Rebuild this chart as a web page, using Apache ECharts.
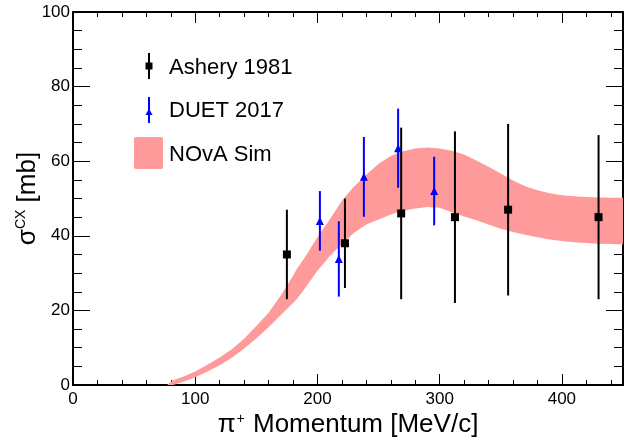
<!DOCTYPE html>
<html>
<head>
<meta charset="utf-8">
<script src="https://cdn.jsdelivr.net/npm/echarts@6/dist/echarts.min.js"></script>
<style>
  html, body { margin: 0; padding: 0; background: #fff; }
  #chart { width: 641px; height: 443px; }
</style>
</head>
<body>
<div id="chart"></div>
<script>
// Axis ranges and tick steps
const xRange = [0, 450];
const xStep = 100;
const yRange = [0, 100];
const yStep = 20;

// NOvA simulation band: momentum [MeV/c], upper and lower cross-section edges [mb]
const bandX =     [77,  80,  82,  90,  100, 110, 120, 130, 140, 150,  160,  170,  175,  180,  183,  190,  200,  210,  220,  230,  240,  250,  260,  270,  280,  290,  300,  310,  320,  330,  340,  350,  360,  370,  380,  390,  400,  410,  420,  430,  440,  450];
const bandUpper = [0,   0.8, 1.3, 2.2, 3.6, 5.4, 7.4, 9.6, 12.4, 15.8, 19.4, 24.0, 26.6, 29.3, 31.0, 34.4, 39.6, 44.4, 49.4, 53.2, 56.4, 59.3, 61.4, 62.7, 63.4, 63.7, 63.4, 62.8, 61.8, 60.2, 58.5, 56.7, 54.8, 53.3, 52.2, 51.4, 50.9, 50.6, 50.4, 50.3, 50.2, 50.2];
const bandLower = [0,   0,   0,   0.9, 2.1, 3.6, 5.3, 7.3, 9.8,  12.5, 15.5, 18.8, 20.4, 22.0, 23.0, 26.0, 30.6, 34.5, 37.8, 40.8, 43.0, 44.4, 45.7, 46.7, 47.3, 47.7, 47.5, 46.3, 45.2, 44.2, 43.0, 41.9, 41.0, 40.3, 39.6, 39.0, 38.6, 38.3, 38.1, 37.9, 37.8, 37.7];

// Ashery 1981 measurements
const asheryX =   [175, 222.5, 268.5, 312.5, 356, 430];
const asheryY =   [35,  38,    46,    45,    47,  45];
const asheryErr = [12,  12,    23,    23,    23,  22];

// DUET 2017 measurements
const duetX =   [202, 217.5, 238,  266,  295.5];
const duetY =   [44,  33.8,  55.8, 63.5, 52];
const duetErr = [8,   10.1,  10.7, 10.6, 9.2];

// Legend entries
const legendLabels = ['Ashery 1981', 'DUET 2017', 'NOvA Sim'];

const FONT = '"Liberation Sans", Arial, Helvetica, sans-serif';
const PINK = '#ff9a9a';
const BLUE = '#0000ff';
const BLACK = '#000000';

const chart = echarts.init(document.getElementById('chart'), null, { renderer: 'canvas' });

function points(xs, ys, es) {
  return xs.map((x, i) => [x, ys[i], es[i]]);
}

function bandItem(params, api) {
  const pts = [];
  for (let i = 0; i < bandX.length; i++) pts.push(api.coord([bandX[i], bandUpper[i]]));
  for (let i = bandX.length - 1; i >= 0; i--) pts.push(api.coord([bandX[i], bandLower[i]]));
  return { type: 'polygon', shape: { points: pts }, style: { fill: PINK } };
}

function errorBarItem(color) {
  return function (params, api) {
    const x = api.value(0), y = api.value(1), e = api.value(2);
    const lo = api.coord([x, y - e]);
    const hi = api.coord([x, y + e]);
    return {
      type: 'line',
      shape: { x1: lo[0], y1: lo[1], x2: hi[0], y2: hi[1] },
      style: { stroke: color, lineWidth: 2 }
    };
  };
}

const tickLabel = { fontFamily: FONT, fontSize: 17, color: BLACK };

function xAxisDef(pos, showLabels) {
  return {
    type: 'value', position: pos, min: xRange[0], max: xRange[1], interval: xStep,
    axisLine: { show: true, onZero: false, lineStyle: { color: BLACK, width: 2 } },
    axisTick: { show: true, inside: true, length: 11, lineStyle: { color: BLACK, width: 1 } },
    minorTick: { show: true, splitNumber: 5, length: 5, lineStyle: { color: BLACK, width: 1 } },
    splitLine: { show: false },
    axisLabel: Object.assign({ show: showLabels, margin: 6, showMaxLabel: false }, tickLabel)
  };
}

function yAxisDef(pos, showLabels) {
  return {
    type: 'value', position: pos, min: yRange[0], max: yRange[1], interval: yStep,
    axisLine: { show: true, onZero: false, lineStyle: { color: BLACK, width: 2 } },
    axisTick: { show: true, inside: true, length: 17, lineStyle: { color: BLACK, width: 1 } },
    minorTick: { show: true, splitNumber: 4, length: 9, lineStyle: { color: BLACK, width: 1 } },
    splitLine: { show: false },
    axisLabel: Object.assign({ show: showLabels, margin: 3 }, tickLabel)
  };
}

const xBottom = xAxisDef('bottom', true);
Object.assign(xBottom, {
  name: '{m|π}{s|+}{m| Momentum [MeV/c]}',
  nameLocation: 'middle',
  nameGap: 27,
  nameMoveOverlap: false,
  nameTextStyle: {
    fontFamily: FONT, color: BLACK,
    rich: {
      m: { fontFamily: FONT, fontSize: 26, color: BLACK, verticalAlign: 'bottom' },
      s: { fontFamily: FONT, fontSize: 14, color: BLACK, verticalAlign: 'bottom', padding: [0, 1, 12, 1] }
    }
  }
});

const yLeft = yAxisDef('left', true);
Object.assign(yLeft, {
  name: '{m|σ}{s|CX}{m| [mb]}',
  nameLocation: 'middle',
  nameRotate: 90,
  nameGap: 32,
  nameMoveOverlap: false,
  nameTextStyle: {
    fontFamily: FONT, color: BLACK,
    rich: {
      m: { fontFamily: FONT, fontSize: 26, color: BLACK, verticalAlign: 'bottom' },
      s: { fontFamily: FONT, fontSize: 14, color: BLACK, verticalAlign: 'bottom', padding: [0, 0, 13, 0] }
    }
  }
});

const legendText = (txt, y) => ({
  type: 'text', left: 169, top: y,
  style: { text: txt, fontFamily: FONT, fontSize: 22, fill: BLACK }
});

chart.setOption({
  animation: false,
  backgroundColor: '#fff',
  grid: { left: 73, right: 18, top: 12, bottom: 57, containLabel: false },
  xAxis: [xBottom, xAxisDef('top', false)],
  yAxis: [yLeft, yAxisDef('right', false)],
  series: [
    {
      type: 'custom', name: 'NOvA Sim', xAxisIndex: 0, yAxisIndex: 0,
      data: [[bandX[0], bandUpper[0]]],
      renderItem: bandItem, silent: true, z: 1
    },
    {
      type: 'custom', name: 'Ashery 1981 errors', xAxisIndex: 0, yAxisIndex: 0,
      data: points(asheryX, asheryY, asheryErr),
      encode: { x: 0, y: 1 },
      renderItem: errorBarItem(BLACK), silent: true, z: 2
    },
    {
      type: 'scatter', name: 'Ashery 1981', xAxisIndex: 0, yAxisIndex: 0,
      data: points(asheryX, asheryY, asheryErr),
      symbol: 'rect', symbolSize: 8,
      itemStyle: { color: BLACK, opacity: 1 }, silent: true, z: 3
    },
    {
      type: 'custom', name: 'DUET 2017 errors', xAxisIndex: 0, yAxisIndex: 0,
      data: points(duetX, duetY, duetErr),
      encode: { x: 0, y: 1 },
      renderItem: errorBarItem(BLUE), silent: true, z: 4
    },
    {
      type: 'scatter', name: 'DUET 2017', xAxisIndex: 0, yAxisIndex: 0,
      data: points(duetX, duetY, duetErr),
      symbol: 'triangle', symbolSize: [8, 8],
      itemStyle: { color: BLUE, opacity: 1 }, silent: true, z: 5
    }
  ],
  graphic: [
    // legend: Ashery 1981 marker
    { type: 'line', shape: { x1: 149, y1: 53, x2: 149, y2: 79 }, style: { stroke: BLACK, lineWidth: 2 } },
    { type: 'rect', shape: { x: 145.5, y: 62.5, width: 7, height: 7 }, style: { fill: BLACK } },
    // legend: DUET 2017 marker
    { type: 'line', shape: { x1: 149, y1: 97, x2: 149, y2: 123 }, style: { stroke: BLUE, lineWidth: 2 } },
    { type: 'polygon', shape: { points: [[145.5, 115], [152.5, 115], [149, 108.5]] }, style: { fill: BLUE } },
    // legend: NOvA Sim swatch
    { type: 'rect', shape: { x: 134, y: 137, width: 29, height: 32, r: 2 }, style: { fill: PINK } },
    legendText(legendLabels[0], 57),
    legendText(legendLabels[1], 100),
    legendText(legendLabels[2], 143.5)
  ]
});
</script>
</body>
</html>
